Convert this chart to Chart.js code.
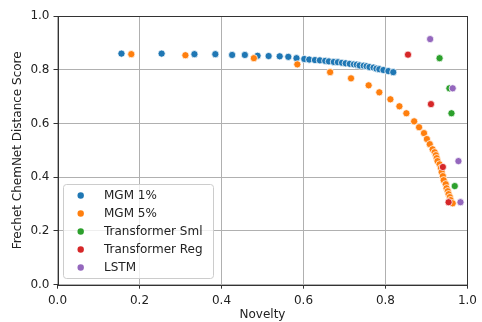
<!DOCTYPE html>
<html><head><meta charset="utf-8">
<script src="https://cdn.jsdelivr.net/npm/chart.js@4/dist/chart.umd.min.js"></script>
<style>html,body{margin:0;padding:0;background:#fff}#w{width:482px;height:322px}</style>
</head><body><div id="w"><canvas id="c" width="482" height="322"></canvas></div>
<script>
const seriesNames = ["MGM 1%", "MGM 5%", "Transformer Sml", "Transformer Reg", "LSTM"];
const seriesColors = ["#1f77b4", "#ff7f0e", "#2ca02c", "#d62728", "#9467bd"];
const mgm1X = [0.156,0.254,0.334,0.385,0.426,0.457,0.488,0.515,0.542,0.563,0.583,0.602,0.614,0.628,0.640,0.653,0.662,0.674,0.684,0.694,0.703,0.713,0.723,0.730,0.737,0.747,0.754,0.761,0.771,0.778,0.785,0.795,0.807,0.819];
const mgm1Y = [0.860,0.860,0.858,0.858,0.855,0.855,0.852,0.851,0.850,0.848,0.843,0.840,0.838,0.836,0.835,0.833,0.831,0.829,0.828,0.826,0.824,0.822,0.820,0.819,0.816,0.815,0.813,0.810,0.808,0.804,0.802,0.799,0.795,0.791];
const mgm5X = [0.180,0.312,0.479,0.585,0.665,0.716,0.759,0.785,0.812,0.834,0.851,0.870,0.882,0.894,0.901,0.908,0.915,0.920,0.923,0.925,0.927,0.932,0.935,0.937,0.940,0.942,0.947,0.949,0.952,0.954,0.957,0.959,0.964];
const mgm5Y = [0.858,0.854,0.843,0.820,0.791,0.768,0.742,0.716,0.690,0.664,0.638,0.608,0.586,0.564,0.542,0.523,0.504,0.493,0.482,0.471,0.460,0.448,0.434,0.419,0.404,0.389,0.374,0.359,0.348,0.337,0.326,0.315,0.303];
const tSmlX = [0.932,0.956,0.961,0.969];
const tSmlY = [0.843,0.731,0.638,0.367];
const tRegX = [0.855,0.911,0.940,0.954];
const tRegY = [0.856,0.672,0.438,0.307];
const lstmX = [0.909,0.964,0.978,0.983];
const lstmY = [0.914,0.731,0.460,0.307];
const xTicks = [0, 0.2, 0.4, 0.6, 0.8, 1.0];
const yTicks = [0, 0.2, 0.4, 0.6, 0.8, 1.0];

const allX = [mgm1X, mgm5X, tSmlX, tRegX, lstmX];
const allY = [mgm1Y, mgm5Y, tSmlY, tRegY, lstmY];
const FONT = "'DejaVu Sans', sans-serif";

const datasets = seriesNames.map((n, i) => ({
  label: n,
  data: allX[i].map((x, j) => ({x: x, y: allY[i][j]})),
  backgroundColor: seriesColors[i],
  borderColor: '#ffffff',
  borderWidth: 0.75,
  pointRadius: 3.6,
  pointHoverRadius: 3.6,
  order: seriesNames.length - i
}));

const framePlugin = {
  id: 'frame',
  afterDatasetsDraw(chart) {
    const {ctx, chartArea: a} = chart;
    ctx.save();
    ctx.strokeStyle = '#333';
    ctx.lineWidth = 1;
    ctx.strokeRect(Math.round(a.left) + 0.5, Math.round(a.top) + 0.5, Math.round(a.right - a.left) - 1, Math.round(a.bottom - a.top));
    ctx.restore();
  },
  afterDraw(chart) {
    const ctx = chart.ctx;
    ctx.save();
    const bx = 63.5, by = 184.5, bw = 150, bh = 94, r = 3;
    ctx.beginPath();
    ctx.moveTo(bx + r, by);
    ctx.lineTo(bx + bw - r, by); ctx.quadraticCurveTo(bx + bw, by, bx + bw, by + r);
    ctx.lineTo(bx + bw, by + bh - r); ctx.quadraticCurveTo(bx + bw, by + bh, bx + bw - r, by + bh);
    ctx.lineTo(bx + r, by + bh); ctx.quadraticCurveTo(bx, by + bh, bx, by + bh - r);
    ctx.lineTo(bx, by + r); ctx.quadraticCurveTo(bx, by, bx + r, by);
    ctx.closePath();
    ctx.fillStyle = 'rgba(255,255,255,0.8)';
    ctx.fill();
    ctx.strokeStyle = '#cccccc';
    ctx.lineWidth = 1;
    ctx.stroke();
    ctx.font = '12px ' + FONT;
    ctx.textBaseline = 'middle';
    ctx.textAlign = 'left';
    seriesNames.forEach((n, i) => {
      const yy = 195.5 + i * 18;
      ctx.beginPath();
      ctx.arc(80.7, yy, 3.2, 0, Math.PI * 2);
      ctx.fillStyle = seriesColors[i];
      ctx.fill();
      ctx.fillStyle = '#222';
      ctx.fillText(n, 104, yy + 0.5);
    });
    ctx.restore();
  }
};

new Chart(document.getElementById('c'), {
  type: 'scatter',
  data: {datasets: datasets},
  options: {
    responsive: false,
    animation: false,
    events: [],
    layout: {padding: {left: 0, top: 16, right: 10, bottom: 0}},
    plugins: {legend: {display: false}, tooltip: {enabled: false}},
    scales: {
      x: {
        type: 'linear', min: 0, max: 1,
        afterBuildTicks(s) { s.ticks = xTicks.map(v => ({value: v})); },
        afterFit(s) { s.height = 37.3; },
        grid: {color: '#b0b0b0', lineWidth: 1, tickColor: '#333', tickLength: 4},
        border: {display: false},
        ticks: {font: {family: FONT, size: 12}, color: '#222', padding: 5, maxRotation: 0,
          callback: v => Number(v).toFixed(1)},
        title: {display: true, text: 'Novelty', font: {family: FONT, size: 12}, color: '#222', padding: {top: 0, bottom: 0}}
      },
      y: {
        type: 'linear', min: 0, max: 1,
        afterBuildTicks(s) { s.ticks = yTicks.map(v => ({value: v})); },
        afterFit(s) { s.width = 57.5; },
        grid: {color: '#b0b0b0', lineWidth: 1, tickColor: '#333', tickLength: 4},
        border: {display: false},
        ticks: {font: {family: FONT, size: 12}, color: '#222', padding: 4,
          callback: v => Number(v).toFixed(1)},
        title: {display: true, text: 'Frechet ChemNet Distance Score', font: {family: FONT, size: 12}, color: '#222', padding: {top: 11, bottom: 0}}
      }
    }
  },
  plugins: [framePlugin]
});
</script>
</body></html>
